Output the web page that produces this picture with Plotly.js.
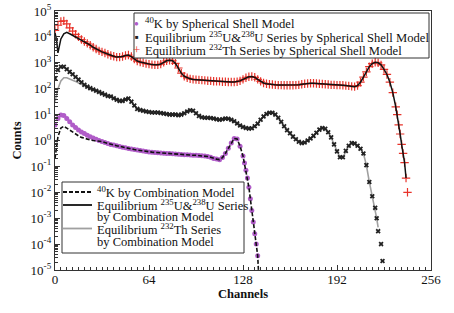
<!DOCTYPE html>
<html>
<head>
<meta charset="utf-8">
<script src="https://cdn.plot.ly/plotly-3.0.1.min.js"></script>
<style>html,body{margin:0;padding:0;background:#fff;}#chart{width:454px;height:313px;}</style>
</head>
<body>
<div id="chart"></div>
<script>
// ---- Equilibrium 232Th series by spherical shell model (red +) ----
const thShellChannels = [0,2,4,6,8,10,12,14,16,18,20,22,24,26,28,30,32,34,36,38,40,42,44,46,48,50,52,54,56,58,60,62,64,66,68,70,72,74,76,78,80,82,84,86,88,90,92,94,96,98,100,102,104,106,108,110,112,114,116,118,120,122,124,126,128,130,132,134,136,138,140,142,144,146,148,150,152,154,156,158,160,162,164,166,168,170,172,174,176,178,180,182,184,186,188,190,192,194,196,198,200,202,204,206,208,210,212,214,216,218,220,222,224,226,228,230,232,233,234,235,236,237,238,239,240];
const thShellCounts = [1.78e4,2.82e4,3.98e4,4.17e4,3.16e4,2.24e4,1.66e4,1.26e4,1.0e4,7940,6610,5620,4790,3980,3390,2880,2630,2400,2140,1910,1780,1660,1660,1740,1910,2000,1740,1410,1170,1070,1000,933,891,851,832,832,891,1050,1200,1260,1200,955,631,398,302,263,240,229,224,219,214,209,204,200,195,191,191,186,186,182,182,182,186,200,229,263,288,295,275,229,191,166,155,148,145,141,138,138,135,135,135,135,138,141,148,155,158,162,162,158,155,151,148,145,141,141,138,138,135,132,129,123,120,132,178,282,447,708,933,1050,1000,832,562,355,178,70.8,20.0,10.0,3.98,1.78,0.708,0.316,0.141,0.0355,0.010];

// ---- 235U & 238U series by spherical shell model (black x) ----
const uShellChannels = [0,2,4,6,8,10,12,14,16,18,20,22,24,26,28,30,32,34,36,38,40,42,44,46,48,50,52,54,56,58,60,62,64,66,68,70,72,74,76,78,80,82,84,86,88,90,92,94,96,98,100,102,104,106,108,110,112,114,116,118,120,122,124,126,128,130,132,134,136,138,140,142,144,146,148,150,152,154,156,158,160,162,164,166,168,170,172,174,176,178,180,182,184,186,188,190,192,194,196,198,200,202,204,206,208,210,212,214,216,218,219,220,222,223];
const uShellCounts = [251,525,708,708,562,447,363,282,224,178,141,120,105,93.3,83.2,74.1,66.1,58.9,52.5,50.1,42.7,37.2,33.9,33.9,38.0,41.7,31.6,22.4,16.6,15.1,14.1,13.2,12.6,12.0,12.0,12.0,11.5,11.0,10.5,10.0,10.0,10.0,9.55,10.0,11.2,13.2,14.8,14.1,11.2,8.91,7.94,7.59,7.59,7.41,7.08,6.61,6.31,6.61,7.08,6.92,6.31,5.50,4.57,3.80,3.31,3.02,2.88,2.95,3.55,4.47,6.31,8.51,10.5,11.7,11.7,10.0,7.59,5.25,3.55,2.51,1.91,1.41,1.12,0.891,0.794,0.832,1.00,1.20,1.51,2.00,2.63,3.02,2.82,2.09,1.32,0.708,0.380,0.224,0.224,0.398,0.631,0.794,0.759,0.631,0.479,0.316,0.112,0.0251,0.00708,0.00251,0.001,3.16e-4,1.0e-4,2.24e-5];

// ---- 40K by spherical shell model (purple circles) ----
const kShellChannels = [0,2,4,6,8,10,12,14,16,18,20,22,24,26,28,30,32,34,36,38,40,42,44,46,48,50,52,54,56,58,60,62,64,66,68,70,72,74,76,78,80,82,84,86,88,90,92,94,96,98,100,102,104,106,108,110,112,114,116,118,120,122,124,126,128,129,130,131,132,133,134,135,136,137,138];
const kShellCounts = [3.98,7.08,9.55,9.33,7.08,5.25,3.98,3.16,2.57,2.14,1.86,1.58,1.41,1.26,1.12,1.00,0.912,0.832,0.759,0.708,0.676,0.631,0.589,0.550,0.525,0.490,0.468,0.447,0.427,0.407,0.389,0.380,0.363,0.355,0.347,0.339,0.331,0.324,0.316,0.316,0.309,0.302,0.295,0.288,0.282,0.282,0.275,0.269,0.269,0.263,0.257,0.251,0.240,0.224,0.204,0.191,0.182,0.219,0.316,0.501,0.794,1.20,1.15,0.603,0.251,0.135,0.0708,0.0355,0.0158,0.00562,0.002,7.08e-4,2.51e-4,1.0e-4,3.55e-5];

// ---- 40K by combination model (black dashed) ----
const kCombChannels = [0,2,4,6,8,10,12,14,16,18,20,22,24,26,28,30,32,34,36,38,40,42,44,46,48,50,52,54,56,58,60,62,64,66,68,70,72,74,76,78,80,82,84,86,88,90,92,94,96,98,100,102,104,106,108,110,112,114,116,118,120,122,124,126,128,129,130,131,132,133,134,135,136,137,138,138.5];
const kCombCounts = [0.20,1.41,3.02,3.55,3.02,2.51,2.14,1.78,1.51,1.32,1.20,1.10,1.05,1.00,0.977,0.955,0.912,0.832,0.759,0.708,0.676,0.631,0.589,0.550,0.525,0.490,0.468,0.447,0.427,0.407,0.389,0.380,0.363,0.355,0.347,0.339,0.331,0.324,0.316,0.316,0.309,0.302,0.295,0.288,0.282,0.282,0.275,0.269,0.269,0.263,0.257,0.251,0.240,0.224,0.204,0.191,0.182,0.219,0.316,0.501,0.794,1.20,1.15,0.603,0.251,0.135,0.0708,0.0355,0.0158,0.00562,0.002,7.08e-4,2.51e-4,1.0e-4,3.55e-5,1.0e-5];

// ---- combination-model line drawn black (follows the upper curve) ----
const blackCombChannels = [0,1,2,3,4,6,8,10,12,14,16,18,20,22,24,26,28,30,32,34,36,38,40,42,44,46,48,50,52,54,56,58,60,62,64,66,68,70,72,74,76,78,80,82,84,86,88,90,92,94,96,98,100,102,104,106,108,110,112,114,116,118,120,122,124,126,128,130,132,134,136,138,140,142,144,146,148,150,152,154,156,158,160,162,164,166,168,170,172,174,176,178,180,182,184,186,188,190,192,194,196,198,200,202,204,206,208,210,212,214,216,218,220,222,224,226,228,230,232,233,234,235,236,237,238,239];
const blackCombCounts = [1.41e4,7940,2400,4470,8320,1.32e4,1.51e4,1.32e4,1.15e4,1.0e4,8710,7410,6460,5620,4790,3980,3390,2880,2630,2400,2140,1910,1780,1660,1660,1740,1910,2000,1740,1410,1170,1070,1000,933,891,851,832,832,891,1050,1200,1260,1200,955,631,398,302,263,240,229,224,219,214,209,204,200,195,191,191,186,186,182,182,182,186,200,229,263,288,295,275,229,191,166,155,148,145,141,138,138,135,135,135,135,138,141,148,155,158,162,162,158,155,151,148,145,141,141,138,138,135,132,129,123,120,132,178,282,447,708,933,1050,1000,832,562,355,178,70.8,20.0,10.0,3.98,1.78,0.708,0.316,0.141,0.0355];

// ---- combination-model line drawn grey (follows the middle curve) ----
const greyCombChannels = [0,2,4,6,8,10,12,14,16,18,20,22,24,26,28,30,32,34,36,38,40,42,44,46,48,50,52,54,56,58,60,62,64,66,68,70,72,74,76,78,80,82,84,86,88,90,92,94,96,98,100,102,104,106,108,110,112,114,116,118,120,122,124,126,128,130,132,134,136,138,140,142,144,146,148,150,152,154,156,158,160,162,164,166,168,170,172,174,176,178,180,182,184,186,188,190,192,194,196,198,200,202,204,206,208,210,212,214,216,218,219,220];
const greyCombCounts = [31.6,100,200,263,263,240,214,191,166,148,132,120,105,93.3,83.2,74.1,66.1,58.9,52.5,50.1,42.7,37.2,33.9,33.9,38.0,41.7,31.6,22.4,16.6,15.1,14.1,13.2,12.6,12.0,12.0,12.0,11.5,11.0,10.5,10.0,10.0,10.0,9.55,10.0,11.2,13.2,14.8,14.1,11.2,8.91,7.94,7.59,7.59,7.41,7.08,6.61,6.31,6.61,7.08,6.92,6.31,5.50,4.57,3.80,3.31,3.02,2.88,2.95,3.55,4.47,6.31,8.51,10.5,11.7,11.7,10.0,7.59,5.25,3.55,2.51,1.91,1.41,1.12,0.891,0.794,0.832,1.00,1.20,1.51,2.00,2.63,3.02,2.82,2.09,1.32,0.708,0.380,0.224,0.224,0.398,0.631,0.794,0.759,0.631,0.479,0.316,0.112,0.0251,0.00708,0.00251,0.001,4.47e-4];

// ---- axis ticks ----
const xTickVals = [0,64,128,192,256];
const yTickVals = [1e-5,1e-4,1e-3,1e-2,1e-1,1,10,100,1e3,1e4,1e5];
const yTickText = ['10<sup>-5</sup>','10<sup>-4</sup>','10<sup>-3</sup>','10<sup>-2</sup>','10<sup>-1</sup>','10<sup>0</sup>','10<sup>1</sup>','10<sup>2</sup>','10<sup>3</sup>','10<sup>4</sup>','10<sup>5</sup>'];
const yMinorVals = [];
for (let e = -5; e < 5; e++) { for (let m = 2; m <= 9; m++) { yMinorVals.push(m * Math.pow(10, e)); } }

const legend1 = [
  {glyph:'●', color:'#b05cc8', size:8, text:'<sup>40</sup>K by Spherical Shell Model'},
  {glyph:'■', color:'#222', size:6, text:'Equilibrium <sup>235</sup>U&amp;<sup>238</sup>U Series by Spherical Shell Model'},
  {glyph:'+', color:'#e8332a', size:13, text:'Equilibrium <sup>232</sup>Th Series by Spherical Shell Model'}
];
const legend2Lines = [
  '<sup>40</sup>K by Combination Model',
  'Equilibrium <sup>235</sup>U&amp;<sup>238</sup>U Series',
  'by Combination Model',
  'Equilibrium <sup>232</sup>Th Series',
  'by Combination Model'
];

const FONT = 'Liberation Serif';

const traces = [
  {x: greyCombChannels, y: greyCombCounts, mode:'lines', line:{color:'#a0a0a0', width:1.6}},
  {x: uShellChannels, y: uShellCounts, mode:'markers', marker:{symbol:'x', size:4.5, color:'#222'}},
  {x: thShellChannels, y: thShellCounts, mode:'markers', marker:{symbol:'cross-thin', size:6, color:'#e8332a', line:{color:'#e8332a', width:1.2}}},
  {x: blackCombChannels, y: blackCombCounts, mode:'lines', line:{color:'#111', width:1.5}},
  {x: kShellChannels, y: kShellCounts, mode:'markers', marker:{symbol:'circle', size:5, color:'#b05cc8'}},
  {x: kCombChannels, y: kCombCounts, mode:'lines', line:{color:'#111', width:1.6, dash:'4px,2px'}}
];

// pixel -> paper helpers for the hand-made legends
const PL = 55, PR = 431, PT = 11, PB = 270;
const px = v => (v - PL) / (PR - PL);
const py = v => (PB - v) / (PB - PT);

const annotations = [];
const shapes = [];
// legend 1 box
shapes.push({type:'rect', xref:'paper', yref:'paper', x0:px(134), x1:px(429), y0:py(58), y1:py(13), line:{color:'#333', width:1}, fillcolor:'#fff', layer:'above'});
const l1Rows = [23, 36.5, 49.5];
legend1.forEach((it, i) => {
  annotations.push({xref:'paper', yref:'paper', x:px(136.5), y:py(l1Rows[i]), xanchor:'center', yanchor:'middle', showarrow:false, borderpad:0, text:it.glyph, font:{family:FONT, size:it.size, color:it.color}});
  annotations.push({xref:'paper', yref:'paper', x:px(144), y:py(l1Rows[i]), xanchor:'left', yanchor:'middle', showarrow:false, borderpad:0, text:it.text, font:{family:FONT, size:12.6, color:'#111'}});
});
// legend 2 box
shapes.push({type:'rect', xref:'paper', yref:'paper', x0:px(62), x1:px(244), y0:py(253), y1:py(182), line:{color:'#333', width:1}, fillcolor:'#fff', layer:'above'});
const l2Rows = [192, 204.5, 217, 229, 241.5];
legend2Lines.forEach((t, i) => {
  annotations.push({xref:'paper', yref:'paper', x:px(95.5), y:py(l2Rows[i]), xanchor:'left', yanchor:'middle', showarrow:false, borderpad:0, text:t, font:{family:FONT, size:12.5, color:'#111'}});
});
shapes.push({type:'line', xref:'paper', yref:'paper', x0:px(63), x1:px(92), y0:py(192), y1:py(192), line:{color:'#111', width:1.8, dash:'4px,2px'}, layer:'above'});
shapes.push({type:'line', xref:'paper', yref:'paper', x0:px(63), x1:px(92), y0:py(205), y1:py(205), line:{color:'#111', width:1.8}, layer:'above'});
shapes.push({type:'line', xref:'paper', yref:'paper', x0:px(63), x1:px(92), y0:py(228.5), y1:py(228.5), line:{color:'#a0a0a0', width:1.8}, layer:'above'});

const layout = {
  width:454, height:313,
  margin:{l:PL, r:454-PR, t:PT, b:313-PB, pad:0},
  paper_bgcolor:'#fff', plot_bgcolor:'#fff',
  showlegend:false,
  font:{family:FONT, size:13, color:'#111'},
  xaxis:{
    range:[0,256], tickmode:'array', tickvals:xTickVals, ticktext:xTickVals.map(String),
    ticks:'inside', ticklen:5, tickwidth:1, tickcolor:'#333', ticklabelstandoff:-3,
    minor:{dtick:4, tick0:0, ticks:'inside', ticklen:3, tickwidth:1, tickcolor:'#333'},
    showline:true, linecolor:'#333', linewidth:1.2, mirror:true,
    showgrid:false, zeroline:false, tickfont:{family:FONT, size:13},
    title:{text:'<b>Channels</b>', font:{family:FONT, size:12.5}, standoff:0}
  },
  yaxis:{
    type:'log', range:[-5,5], tickmode:'array', tickvals:yTickVals, ticktext:yTickText,
    ticks:'inside', ticklen:5, tickwidth:1, tickcolor:'#333',
    minor:{tickmode:'array', tickvals:yMinorVals, ticks:'inside', ticklen:3, tickwidth:1, tickcolor:'#333'},
    showline:true, linecolor:'#333', linewidth:1.2, mirror:true,
    showgrid:false, zeroline:false, tickfont:{family:FONT, size:13},
    title:{text:'<b>Counts</b>', font:{family:FONT, size:12.5}, standoff:6}
  },
  annotations: annotations,
  shapes: shapes
};

Plotly.newPlot('chart', traces, layout, {staticPlot:true, displayModeBar:false});
</script>
</body>
</html>
